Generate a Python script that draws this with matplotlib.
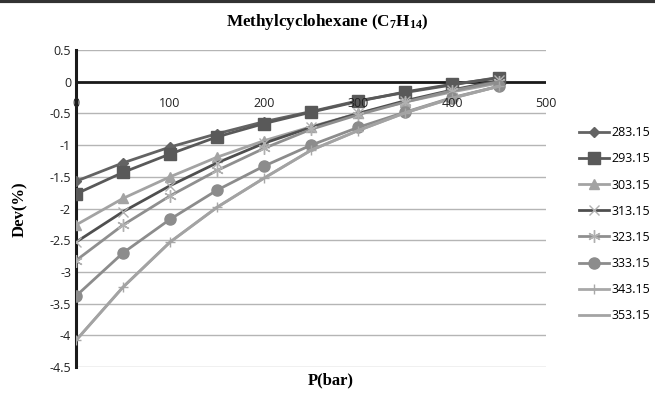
import matplotlib
matplotlib.use("Agg")
import matplotlib.pyplot as plt
import numpy as np

plt.rcParams["mathtext.fontset"] = "custom"
plt.rcParams["mathtext.rm"] = "Liberation Serif:bold"
plt.rcParams["mathtext.it"] = "Liberation Serif:bold"

pressure = [0, 50, 100, 150, 200, 250, 300, 350, 400, 450]
temps = ["283.15", "293.15", "303.15", "313.15", "323.15", "333.15", "343.15", "353.15"]

dev_283 = [-1.57, -1.28, -1.03, -0.82, -0.63, -0.47, -0.30, -0.17, -0.05, 0.07]
dev_293 = [-1.77, -1.43, -1.14, -0.87, -0.66, -0.48, -0.31, -0.16, -0.04, 0.06]
dev_303 = [-2.26, -1.84, -1.50, -1.19, -0.93, -0.71, -0.50, -0.32, -0.16, -0.02]
dev_313 = [-2.53, -2.05, -1.64, -1.28, -0.97, -0.72, -0.50, -0.30, -0.13, 0.02]
dev_323 = [-2.82, -2.26, -1.80, -1.40, -1.05, -0.75, -0.52, -0.32, -0.14, 0.00]
dev_333 = [-3.38, -2.70, -2.17, -1.71, -1.33, -1.00, -0.72, -0.48, -0.25, -0.07]
dev_343 = [-4.08, -3.24, -2.53, -1.98, -1.52, -1.08, -0.77, -0.49, -0.26, -0.07]
dev_353 = [-4.08, -3.24, -2.53, -1.98, -1.52, -1.08, -0.77, -0.49, -0.26, -0.07]
series = [dev_283, dev_293, dev_303, dev_313, dev_323, dev_333, dev_343, dev_353]

# line colour, marker, marker size, marker colour
styles = [
    ("#636363", "D", 5, "#636363"),
    ("#595959", "s", 8, "#595959"),
    ("#a3a3a3", "^", 7, "#a3a3a3"),
    ("#4f4f4f", "x", 7, "#b0b0b0"),
    ("#8f8f8f", (6, 2, 0), 9, "#b0b0b0"),
    ("#8c8c8c", "o", 8, "#8c8c8c"),
    ("#a8a8a8", "+", 7, "#a8a8a8"),
    ("#a3a3a3", "", 0, "#a3a3a3"),
]

fig = plt.figure(figsize=(6.55, 3.94), dpi=100)
ax = fig.add_axes([0.116, 0.0685, 0.718, 0.8045])

for vals, label, (lc, mk, ms, mc) in zip(series, temps, styles):
    ax.plot(pressure, vals, color=lc, lw=2, marker=mk if mk else None, ms=ms,
            mfc=mc, mec=mc, mew=1, label=label)

ax.set_xlim(0, 500)
ax.set_ylim(-4.5, 0.5)
ax.set_yticks(np.arange(-4.5, 0.51, 0.5))
ax.set_yticklabels([f"{v:g}" for v in np.arange(-4.5, 0.51, 0.5)])
ax.set_xticks([0, 100, 200, 300, 400, 500])
ax.yaxis.grid(True, color="#b5b5b5", lw=1)
ax.set_axisbelow(True)
ax.axhline(0, color="#1a1a1a", lw=2, zorder=1)

for s in ["top", "right", "bottom"]:
    ax.spines[s].set_visible(False)
ax.spines["left"].set_linewidth(2.2)
ax.spines["left"].set_color("#1a1a1a")
ax.spines["left"].set_zorder(1.2)
ax.spines["bottom"].set_position(("data", 0))
ax.tick_params(axis="both", length=0, labelsize=9, colors="#222222",
               labelfontfamily="Open Sans")
ax.tick_params(axis="x", pad=11)
ax.xaxis.set_zorder(3)

fig.text(0.50, 0.943, r"Methylcyclohexane (C$_{7}$H$_{14}$)", ha="center", va="center",
         family="Liberation Serif", weight="bold", fontsize=12.3)
fig.text(0.031, 0.47, "Dev(%)", rotation=90, ha="center", va="center",
         family="Liberation Serif", weight="bold", fontsize=12)
fig.text(0.505, 0.035, "P(bar)", ha="center", va="center",
         family="Liberation Serif", weight="bold", fontsize=12)

leg = ax.legend(loc="upper left", bbox_to_anchor=(1.045, 0.795), frameon=False,
                handlelength=2.4, labelspacing=1.05, handletextpad=0.2,
                prop={"family": "Open Sans", "size": 9})

fig.add_artist(plt.Line2D([0, 1], [0.997, 0.997], color="#333333", lw=3,
                          transform=fig.transFigure))

fig.savefig("out.png", dpi=100)
